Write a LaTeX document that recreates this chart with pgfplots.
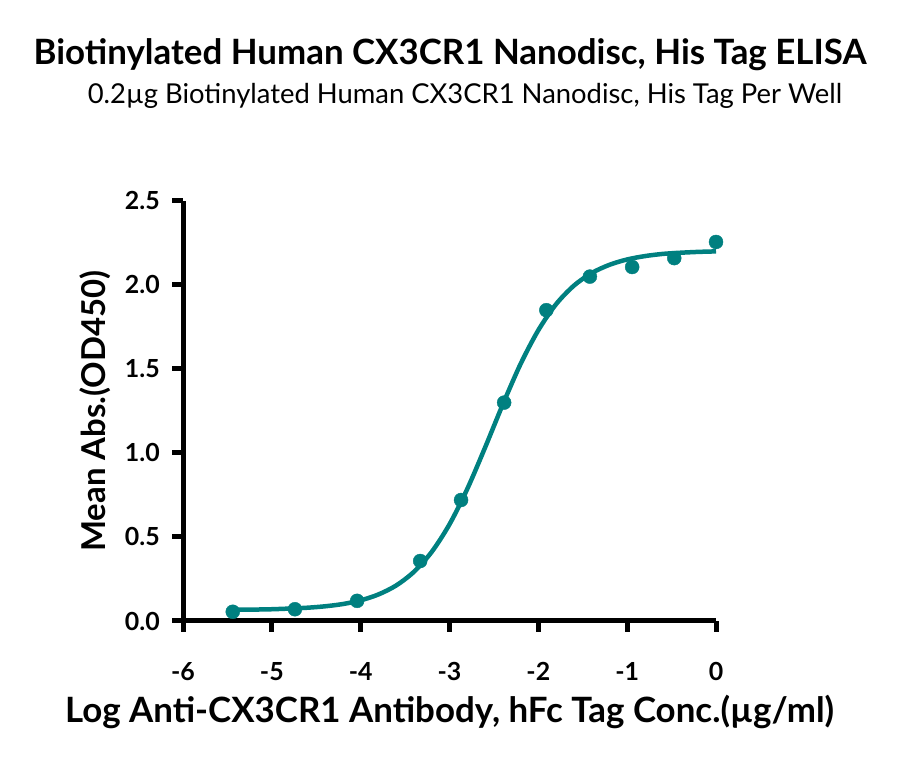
\documentclass[border=0pt]{standalone}
\usepackage{fontspec}
\setmainfont{Lato}
\usepackage{pgfplots}
\pgfplotsset{compat=1.18}
\definecolor{curveTeal}{RGB}{0,128,128}
\begin{document}
\begin{tikzpicture}[x=1bp,y=1bp]
\path[use as bounding box] (0,0) rectangle (900,760);
\node[anchor=base,font=\fontsize{35}{38}\selectfont\bfseries] at (450,695) {Biotinylated Human CX3CR1 Nanodisc, His Tag ELISA};
\node[anchor=base,font=\fontsize{27.5}{30}\selectfont] at (465,656) {0.2µg Biotinylated Human CX3CR1 Nanodisc, His Tag Per Well};
\begin{axis}[
    at={(183bp,139bp)}, anchor=south west,
    scale only axis,
    width=533bp, height=420bp,
    xmin=-6, xmax=0, ymin=0, ymax=2.5,
    axis x line=bottom, axis y line=left,
    axis line style={line width=5bp,-},
    xtick={-6,-5,...,0}, ytick={0,0.5,...,2.5},
    xticklabel={\bfseries\pgfmathprintnumber{\tick}},
    yticklabel={\bfseries\pgfmathprintnumber[fixed,fixed zerofill,precision=1]{\tick}},
    tick style={line width=5bp,black},
    major tick length=11bp,
    tick align=outside,
    minor tick num=0,
    tick label style={font=\fontsize{25}{27}\selectfont\bfseries, inner sep=0pt},
    xticklabel style={anchor=base, yshift=-48bp},
    yticklabel style={anchor=east, xshift=-12bp},
    /pgf/number format/assume math mode=true,
    xlabel={Log Anti-CX3CR1 Antibody, hFc Tag Conc.(µg/ml)},
    ylabel={Mean Abs.(OD450)},
    label style={font=\fontsize{35}{38}\selectfont\bfseries},
    xlabel style={at={(axis description cs:0.5,-0.2405)}, anchor=base},
    ylabel style={font=\fontsize{33}{36}\selectfont\bfseries, at={(axis description cs:-0.165,0.5)}, anchor=center},
    clip=false,
]
\addplot[curveTeal, line width=4.5bp, smooth] coordinates {
(-5.45,0.067) (-5.2,0.068) (-5.0,0.070) (-4.8,0.074) (-4.6,0.079)
(-4.4,0.0875) (-4.2,0.101) (-4.0,0.123) (-3.8,0.158) (-3.6,0.2115)
(-3.4,0.293) (-3.2,0.4115) (-3.0,0.5755) (-2.8,0.786) (-2.6,1.032)
(-2.4,1.289) (-2.2,1.53) (-2.0,1.731) (-1.8,1.886) (-1.6,1.996)
(-1.4,2.071) (-1.2,2.12) (-1.0,2.152) (-0.8,2.172) (-0.6,2.185)
(-0.4,2.192) (-0.2,2.197) (0,2.200)
};
\addplot[only marks, mark=*, mark size=7bp, curveTeal] coordinates {
(-5.44,0.055) (-4.74,0.070) (-4.04,0.120) (-3.33,0.357) (-2.87,0.72)
(-2.385,1.30) (-1.91,1.85) (-1.42,2.05) (-0.944,2.107) (-0.47,2.16) (0,2.256)
};
\end{axis}
\end{tikzpicture}
\end{document}
